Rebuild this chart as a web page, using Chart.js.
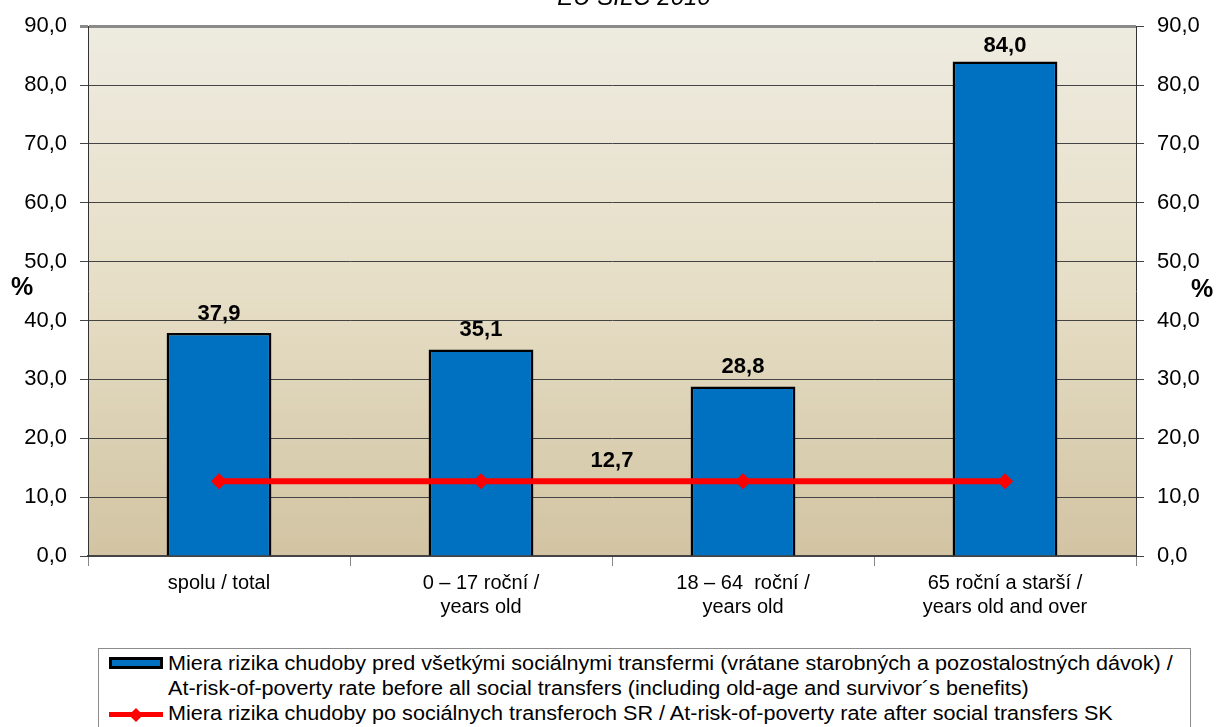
<!DOCTYPE html>
<html>
<head>
<meta charset="utf-8">
<script src="https://cdn.jsdelivr.net/npm/chart.js@4.4.1/dist/chart.umd.min.js"></script>
<style>
  html, body { margin: 0; padding: 0; background: #fff; }
  #wrap { position: relative; width: 1222px; height: 727px; overflow: hidden; font-family: "Liberation Sans", Arial, sans-serif; }
  #c { position: absolute; left: 0; top: 0; }
  #legend { position: absolute; left: 98px; top: 648px; width: 1093px; height: 100px; border: 1px solid #8c8c8c; background: #fff; box-sizing: border-box; }
  .lt { position: absolute; left: 69px; font-size: 20px; line-height: 25px; color: #000; white-space: nowrap; transform: scaleX(1.08); transform-origin: left center; }
  .barIcon { position: absolute; left: 10px; width: 54px; height: 12px; background: #0070C0; border: 3px solid #000; box-sizing: border-box; }
  .lineIcon { position: absolute; left: 10px; width: 54px; height: 5px; background: #ff0000; }
  .diamond { position: absolute; width: 10px; height: 10px; background: #ff0000; transform: rotate(45deg); }
</style>
</head>
<body>
<div id="wrap">
  <canvas id="c" width="1222" height="727"></canvas>
  <div id="legend"></div>
</div>
<script>
const titleText = 'EU SILC 2010';
const categories = [
  ['spolu / total'],
  ['0 – 17 roční /', 'years old'],
  ['18 – 64  roční /', 'years old'],
  ['65 roční a starší /', 'years old and over']
];
const beforeTransfers = [37.9, 35.1, 28.8, 84.0];
const afterTransfers = [12.7, 12.7, 12.7, 12.7];
const afterLabel = '12,7';
const legendBefore = [
  'Miera rizika chudoby pred všetkými sociálnymi transfermi (vrátane starobných a pozostalostných dávok) /',
  'At-risk-of-poverty rate before all social transfers (including old-age and survivor´s benefits)'
];
const legendAfter = 'Miera rizika chudoby po sociálnych transferoch SR / At-risk-of-poverty rate after social transfers SK';
const yMin = 0, yMax = 90, yStep = 10;
const axisUnit = '%';

const FONT = '"Liberation Sans", Arial, sans-serif';
const fmt = v => v.toFixed(1).replace('.', ',');

// Legend (HTML, real text)
(function buildLegend() {
  const lg = document.getElementById('legend');
  const b = document.createElement('div'); b.className = 'barIcon'; b.style.top = '8px'; lg.appendChild(b);
  legendBefore.forEach((t, i) => {
    const s = document.createElement('div'); s.className = 'lt'; s.style.top = (2 + i * 25) + 'px'; s.textContent = t; lg.appendChild(s);
  });
  const l = document.createElement('div'); l.className = 'lineIcon'; l.style.top = '63px'; lg.appendChild(l);
  const d = document.createElement('div'); d.className = 'diamond'; d.style.left = '32px'; d.style.top = '60.5px'; lg.appendChild(d);
  const s3 = document.createElement('div'); s3.className = 'lt'; s3.style.top = '52px'; s3.textContent = legendAfter; lg.appendChild(s3);
})();

const bgPlugin = {
  id: 'bg',
  beforeDraw(chart) {
    const { ctx, chartArea: a } = chart;
    const g = ctx.createLinearGradient(0, a.top, 0, a.bottom);
    g.addColorStop(0, '#EEEBE0');
    g.addColorStop(0.5, '#E6DEC6');
    g.addColorStop(1, '#D2C4A3');
    ctx.save();
    ctx.fillStyle = g;
    ctx.fillRect(a.left, a.top, a.right - a.left, a.bottom - a.top);
    ctx.restore();
  }
};

const labelPlugin = {
  id: 'labels',
  afterDatasetsDraw(chart) {
    const { ctx } = chart;
    ctx.save();
    ctx.fillStyle = '#000';
    ctx.font = 'bold 22px ' + FONT;
    ctx.textAlign = 'center';
    ctx.textBaseline = 'alphabetic';
    const barMeta = chart.getDatasetMeta(0);
    barMeta.data.forEach((el, i) => {
      const y = Math.max(el.y - 13, chart.chartArea.top + 26);
      ctx.fillText(fmt(beforeTransfers[i]), el.x, y);
    });
    const lineMeta = chart.getDatasetMeta(1);
    const p1 = lineMeta.data[1], p2 = lineMeta.data[2];
    ctx.fillText(afterLabel, (p1.x + p2.x) / 2, p1.y - 14);
    // title (mostly cut at top)
    ctx.font = 'italic 24px ' + FONT;
    ctx.fillText(titleText, 634, 5);
    // % axis units
    ctx.font = 'bold 25px ' + FONT;
    const ym = chart.scales.y.getPixelForValue((yMin + yMax) / 2);
    ctx.textBaseline = 'middle';
    ctx.fillText(axisUnit, 22, ym - 3);
    ctx.fillText(axisUnit, 1202, ym - 1);
    ctx.restore();
  }
};

new Chart(document.getElementById('c'), {
  data: {
    labels: categories,
    datasets: [
      {
        type: 'bar',
        data: beforeTransfers,
        backgroundColor: '#0070C0',
        borderColor: '#000',
        borderWidth: 2.5,
        barPercentage: 0.4,
        categoryPercentage: 1,
        order: 1,
        yAxisID: 'y'
      },
      {
        type: 'line',
        data: afterTransfers,
        borderColor: '#FF0000',
        backgroundColor: '#FF0000',
        borderWidth: 6,
        pointStyle: 'rectRot',
        pointRadius: 8,
        pointBorderWidth: 0,
        order: 0,
        yAxisID: 'y'
      }
    ]
  },
  options: {
    responsive: false,
    animation: false,
    devicePixelRatio: 1,
    layout: { padding: { top: 22, left: 0, right: 0, bottom: 0 } },
    plugins: { legend: { display: false }, tooltip: { enabled: false } },
    scales: {
      x: {
        offset: true,
        afterFit(s) { s.height = 171; },
        grid: { offset: true, drawOnChartArea: false, tickLength: 10, color: '#888', lineWidth: 1 },
        border: { color: '#444', width: 2 },
        ticks: { color: '#000', font: { family: FONT, size: 20 }, padding: 5, maxRotation: 0, autoSkip: false }
      },
      y: {
        position: 'left',
        min: yMin, max: yMax,
        afterFit(s) { s.width = 88; },
        ticks: { stepSize: yStep, color: '#000', font: { family: FONT, size: 22 }, padding: 13, callback: v => fmt(v) },
        grid: {
          tickLength: 8,
          color: c => (c.tick && c.tick.value === yMax) ? '#8a8a8a' : '#444',
          lineWidth: c => (c.tick && c.tick.value === yMax) ? 3 : 1
        },
        border: { color: '#333', width: 1 }
      },
      y2: {
        position: 'right',
        min: yMin, max: yMax,
        afterFit(s) { s.width = 86; },
        ticks: { stepSize: yStep, color: '#000', font: { family: FONT, size: 22 }, padding: 13, callback: v => fmt(v) },
        grid: { drawOnChartArea: false, tickLength: 8, color: '#444' },
        border: { color: '#333', width: 1 }
      }
    }
  },
  plugins: [bgPlugin, labelPlugin]
});
</script>
</body>
</html>
